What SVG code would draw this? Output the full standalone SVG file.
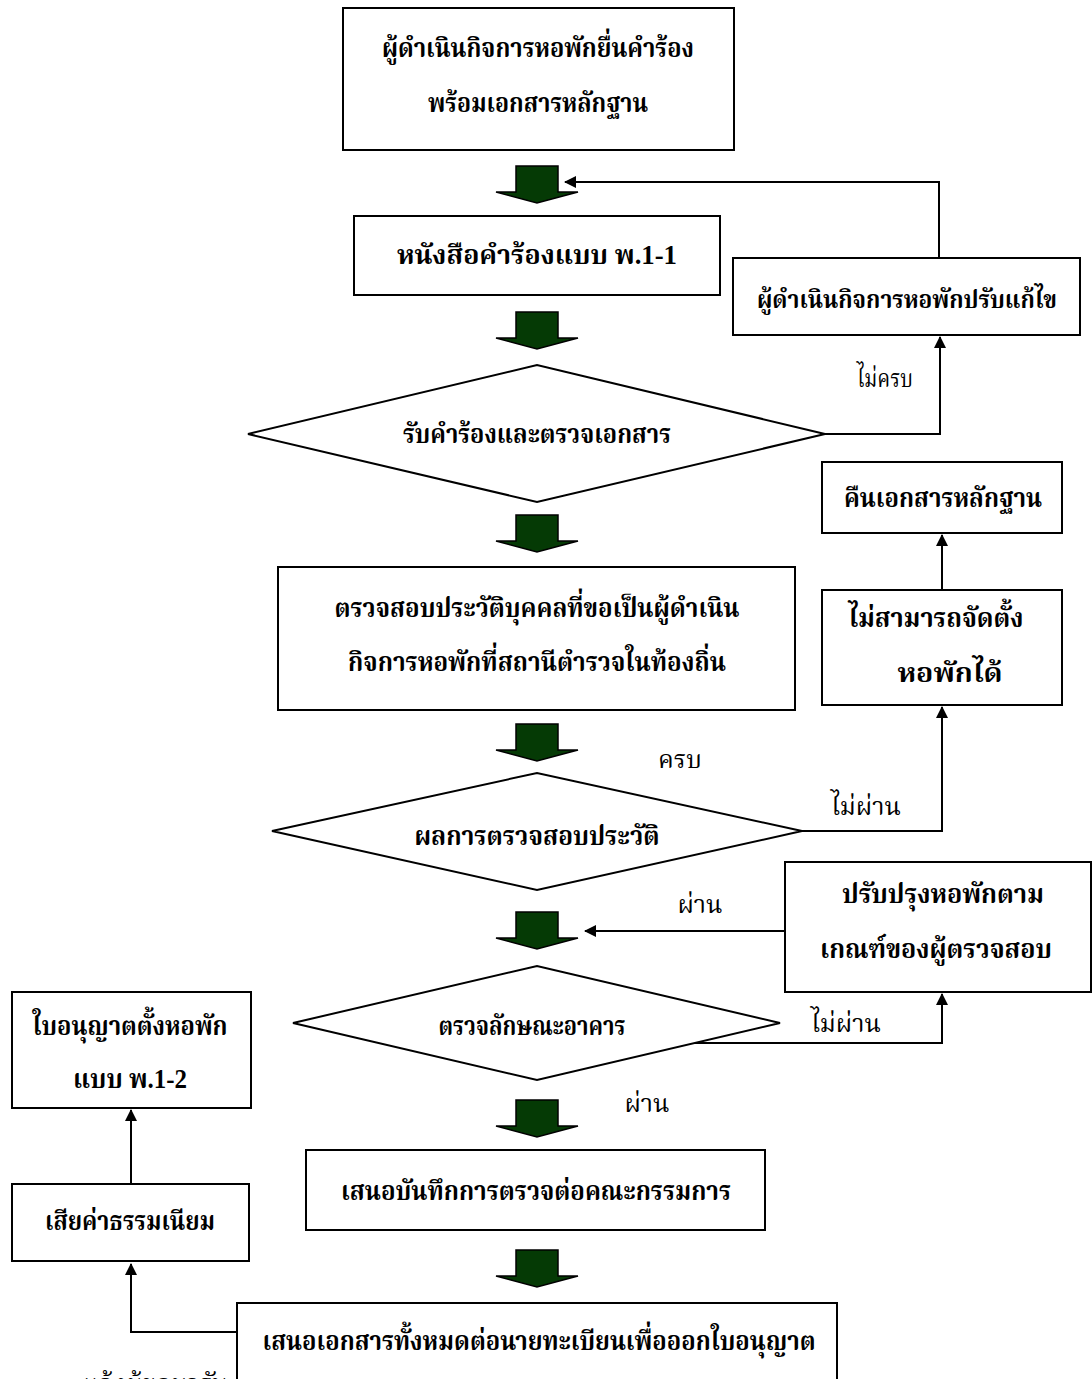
<svg xmlns="http://www.w3.org/2000/svg" width="1092" height="1379" viewBox="0 0 1092 1379">
<defs>
<style>
.box{fill:#fff;stroke:#000;stroke-width:2}
.t{font-family:"Liberation Serif","Noto Serif Thai","Noto Sans Thai",serif;font-size:27px;font-weight:bold;fill:#000;text-anchor:middle}
.l{font-family:"Liberation Serif","Noto Serif Thai","Noto Sans Thai",serif;font-size:25px;fill:#000;text-anchor:middle}
.c{fill:none;stroke:#000;stroke-width:2}
.fat{fill:#053a05;stroke:#000;stroke-width:1.5}
</style>
<marker id="ah" viewBox="0 0 12 12" refX="11" refY="6" markerWidth="12" markerHeight="12" markerUnits="userSpaceOnUse" orient="auto">
<path d="M0,0 L12,6 L0,12 Z" fill="#000"/>
</marker>
<path id="fa" d="M-21,0 H21 V26 H41 L0,37 L-41,26 H-21 Z"/>
</defs>
<rect width="1092" height="1379" fill="#fff"/>

<g id="connectors">
<polyline class="c" points="939,258 939,182 565,182" marker-end="url(#ah)"/>
<polyline class="c" points="825,434 940,434 940,337" marker-end="url(#ah)"/>
<polyline class="c" points="802,831 942,831 942,707" marker-end="url(#ah)"/>
<polyline class="c" points="942,590 942,535" marker-end="url(#ah)"/>
<polyline class="c" points="785,931 585,931" marker-end="url(#ah)"/>
<polyline class="c" points="685,1043 942,1043 942,994" marker-end="url(#ah)"/>
<polyline class="c" points="237,1332 131,1332 131,1264" marker-end="url(#ah)"/>
<polyline class="c" points="131,1184 131,1110" marker-end="url(#ah)"/>
<use href="#fa" class="fat" x="537" y="166"/>
<use href="#fa" class="fat" x="537" y="312"/>
<use href="#fa" class="fat" x="537" y="515"/>
<use href="#fa" class="fat" x="537" y="724"/>
<use href="#fa" class="fat" x="537" y="912"/>
<use href="#fa" class="fat" x="537" y="1100"/>
<use href="#fa" class="fat" x="537" y="1250"/>
<text class="l" x="885" y="387" textLength="56" lengthAdjust="spacingAndGlyphs">ไม่ครบ</text>
<text class="l" x="680" y="768">ครบ</text>
<text class="l" x="866" y="815">ไม่ผ่าน</text>
<text class="l" x="700" y="913">ผ่าน</text>
<text class="l" x="846" y="1032">ไม่ผ่าน</text>
<text class="l" x="647" y="1112">ผ่าน</text>
<text class="l" x="155" y="1392">แจ้งผู้ขอมารับ</text>
</g>

<g id="n1"><rect class="box" x="343" y="8" width="391" height="142"/>
<text class="t" x="538" y="57" textLength="312" lengthAdjust="spacingAndGlyphs">ผู้ดำเนินกิจการหอพักยื่นคำร้อง</text>
<text class="t" x="538" y="112" textLength="220" lengthAdjust="spacingAndGlyphs">พร้อมเอกสารหลักฐาน</text></g>

<g id="n2"><rect class="box" x="354" y="216" width="366" height="79"/>
<text class="t" x="537" y="264" textLength="280" lengthAdjust="spacingAndGlyphs">หนังสือคำร้องแบบ  พ.1-1</text></g>

<g id="n3"><rect class="box" x="733" y="258" width="347" height="77"/>
<text class="t" x="907" y="308" style="font-size:25px" textLength="300" lengthAdjust="spacingAndGlyphs">ผู้ดำเนินกิจการหอพักปรับแก้ไข</text></g>

<g id="d1"><polygon class="box" points="248,434 537,365 825,434 537,502"/>
<text class="t" x="537" y="443" textLength="268" lengthAdjust="spacingAndGlyphs">รับคำร้องและตรวจเอกสาร</text></g>

<g id="n4"><rect class="box" x="822" y="462" width="240" height="71"/>
<text class="t" x="943" y="507" textLength="198" lengthAdjust="spacingAndGlyphs">คืนเอกสารหลักฐาน</text></g>

<g id="n5"><rect class="box" x="278" y="567" width="517" height="143"/>
<text class="t" x="537" y="617" textLength="405" lengthAdjust="spacingAndGlyphs">ตรวจสอบประวัติบุคคลที่ขอเป็นผู้ดำเนิน</text>
<text class="t" x="537" y="671" textLength="378" lengthAdjust="spacingAndGlyphs">กิจการหอพักที่สถานีตำรวจในท้องถิ่น</text></g>

<g id="n6"><rect class="box" x="822" y="590" width="240" height="115"/>
<text class="t" x="936" y="627" textLength="175" lengthAdjust="spacingAndGlyphs">ไม่สามารถจัดตั้ง</text>
<text class="t" x="950" y="682" textLength="105" lengthAdjust="spacingAndGlyphs">หอพักได้</text></g>

<g id="d2"><polygon class="box" points="272,831 537,773 802,831 537,890"/>
<text class="t" x="537" y="845" textLength="245" lengthAdjust="spacingAndGlyphs">ผลการตรวจสอบประวัติ</text></g>

<g id="n7"><rect class="box" x="785" y="862" width="306" height="130"/>
<text class="t" x="943" y="903" textLength="202" lengthAdjust="spacingAndGlyphs">ปรับปรุงหอพักตาม</text>
<text class="t" x="936" y="958" textLength="232" lengthAdjust="spacingAndGlyphs">เกณฑ์ของผู้ตรวจสอบ</text></g>

<g id="d3"><polygon class="box" points="293,1023 537,966 780,1023 537,1080"/>
<text class="t" x="532" y="1035" textLength="187" lengthAdjust="spacingAndGlyphs">ตรวจลักษณะอาคาร</text></g>

<g id="n8"><rect class="box" x="12" y="992" width="239" height="116"/>
<text class="t" x="130" y="1035" textLength="195" lengthAdjust="spacingAndGlyphs">ใบอนุญาตตั้งหอพัก</text>
<text class="t" x="130" y="1088" textLength="114" lengthAdjust="spacingAndGlyphs">แบบ  พ.1-2</text></g>

<g id="n9"><rect class="box" x="306" y="1150" width="459" height="80"/>
<text class="t" x="536" y="1200" textLength="390" lengthAdjust="spacingAndGlyphs">เสนอบันทึกการตรวจต่อคณะกรรมการ</text></g>

<g id="n10"><rect class="box" x="12" y="1184" width="237" height="77"/>
<text class="t" x="130" y="1230" textLength="170" lengthAdjust="spacingAndGlyphs">เสียค่าธรรมเนียม</text></g>

<g id="n11"><rect class="box" x="237" y="1303" width="600" height="90"/>
<text class="t" x="539" y="1350" textLength="553" lengthAdjust="spacingAndGlyphs">เสนอเอกสารทั้งหมดต่อนายทะเบียนเพื่อออกใบอนุญาต</text></g>
</svg>
